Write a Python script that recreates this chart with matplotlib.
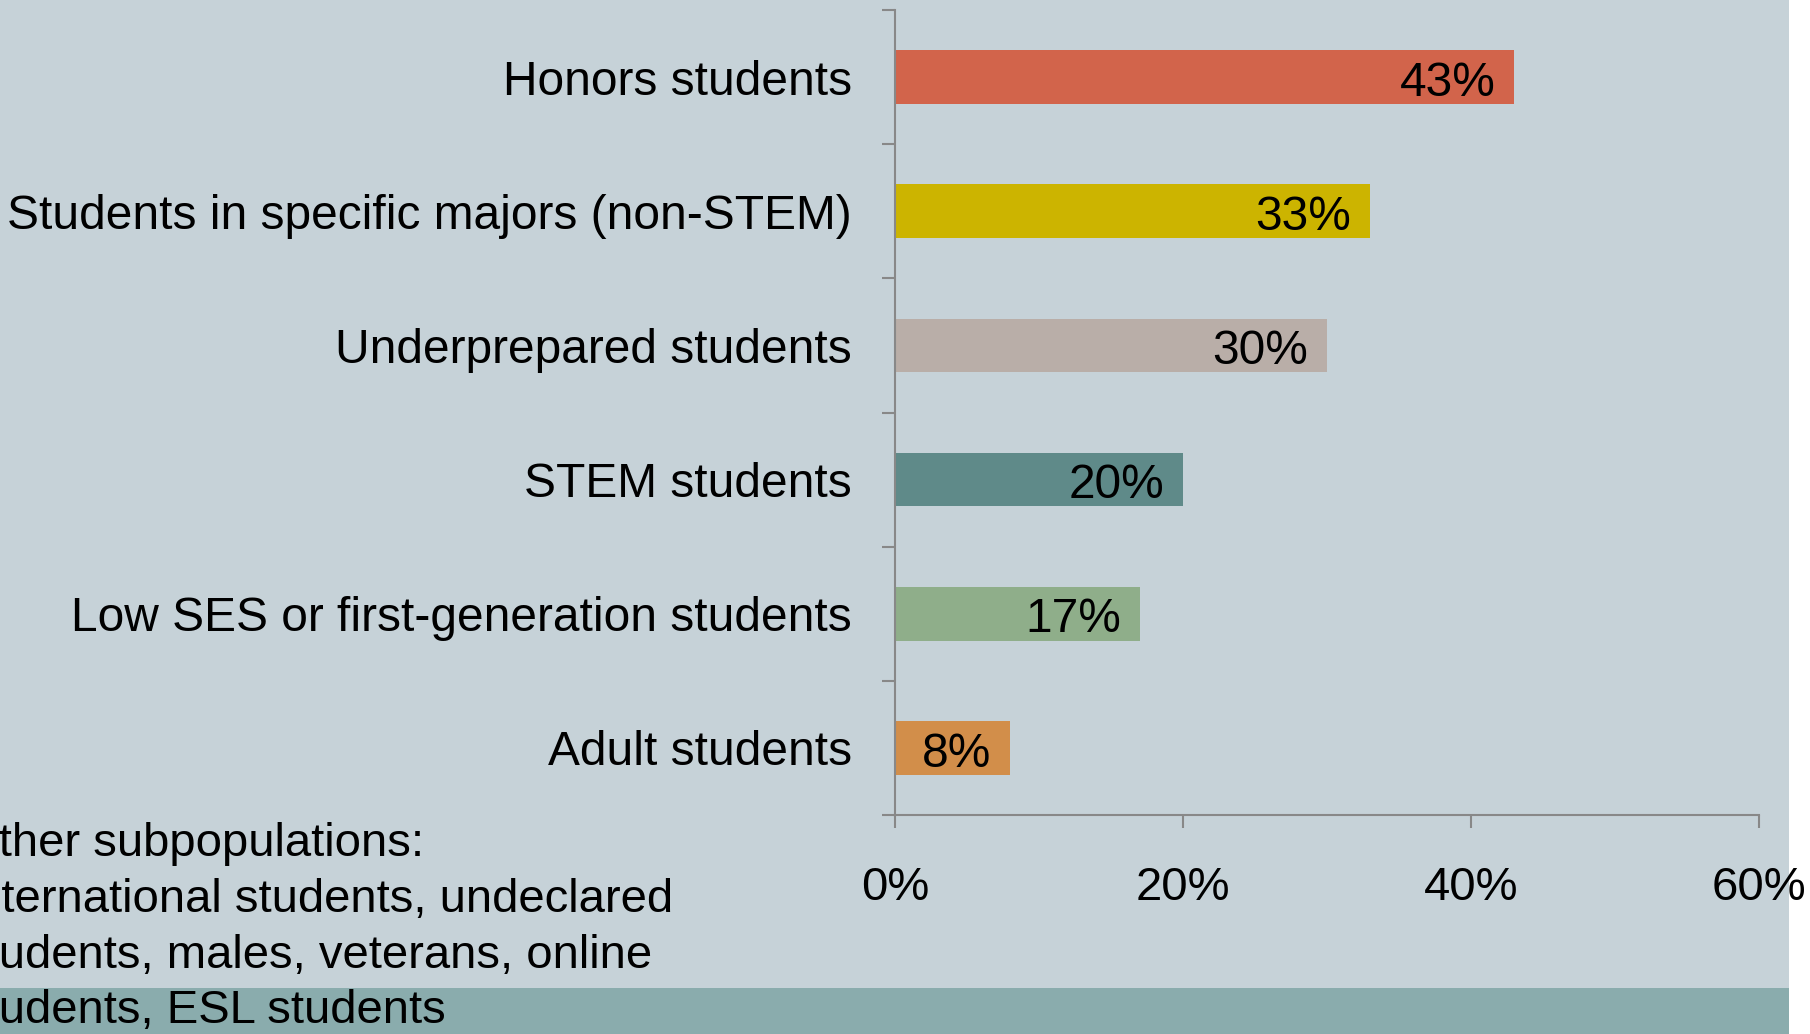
import matplotlib
matplotlib.use("Agg")
import matplotlib.pyplot as plt
from matplotlib.patches import Rectangle

categories = ["Adult students", "Low SES or first-generation students", "STEM students",
              "Underprepared students", "Students in specific majors (non-STEM)", "Honors students"]
values = [8, 17, 20, 30, 33, 43]
colors = ["#D28E4A", "#8FAE8A", "#5F8A89", "#B9AEA8", "#CCB400", "#D2644B"]
xticks = [0, 20, 40, 60]
note_lines = ["Other subpopulations:", "International students, undeclared",
              "students, males, veterans, online", "students, ESL students"]

plt.rcParams['font.family'] = ['Liberation Sans', 'DejaVu Sans']

W, H = 1810, 1034
fig = plt.figure(figsize=(W / 100, H / 100), dpi=100, facecolor="white")

bg = "#C6D2D8"
fig.patches.append(Rectangle((0, 0), 1789 / W, 1, transform=fig.transFigure,
                             facecolor=bg, edgecolor="none", zorder=-10))
fig.patches.append(Rectangle((0, 0), 1789 / W, 46 / H, transform=fig.transFigure,
                             facecolor="#8AACAD", edgecolor="none", zorder=-9))

ax = fig.add_axes([895 / W, 1 - 815 / H, (1759 - 895) / W, (815 - 10) / H])
ax.set_facecolor("none")

y = list(range(len(categories)))
ax.barh(y, values, height=0.4, color=colors, zorder=2)
ax.set_ylim(-0.5, len(categories) - 0.5)
ax.set_xlim(0, 60)

for yi, v in zip(y, values):
    ax.annotate(f"{v}%", xy=(v, yi), xytext=(-13.5, -13.5), textcoords="offset points",
                ha="right", va="baseline", fontsize=34.5, color="black", zorder=3)

ax.set_yticks(y)
ax.set_yticklabels(categories, fontsize=34.5)
ax.tick_params(axis="y", which="major", length=0, pad=31)
ax.set_yticks([i - 0.5 for i in range(len(categories) + 1)], minor=True)
ax.tick_params(axis="y", which="minor", length=9.5, width=1.5, color="#888888")

ax.set_xticks(xticks)
ax.set_xticklabels([f"{t}%" for t in xticks], fontsize=34)
ax.tick_params(axis="x", which="major", length=9.5, width=1.5, color="#888888", pad=27)

for s in ["top", "right"]:
    ax.spines[s].set_visible(False)
for s in ["left", "bottom"]:
    ax.spines[s].set_color("#888888")
    ax.spines[s].set_linewidth(1.5)

baselines = [856, 912, 968, 1023]
for line, b in zip(note_lines, baselines):
    fig.text(-38 / W, 1 - b / H, line, fontsize=34, ha="left", va="baseline", color="black")

fig.savefig("out.png", dpi=100, facecolor="white")
